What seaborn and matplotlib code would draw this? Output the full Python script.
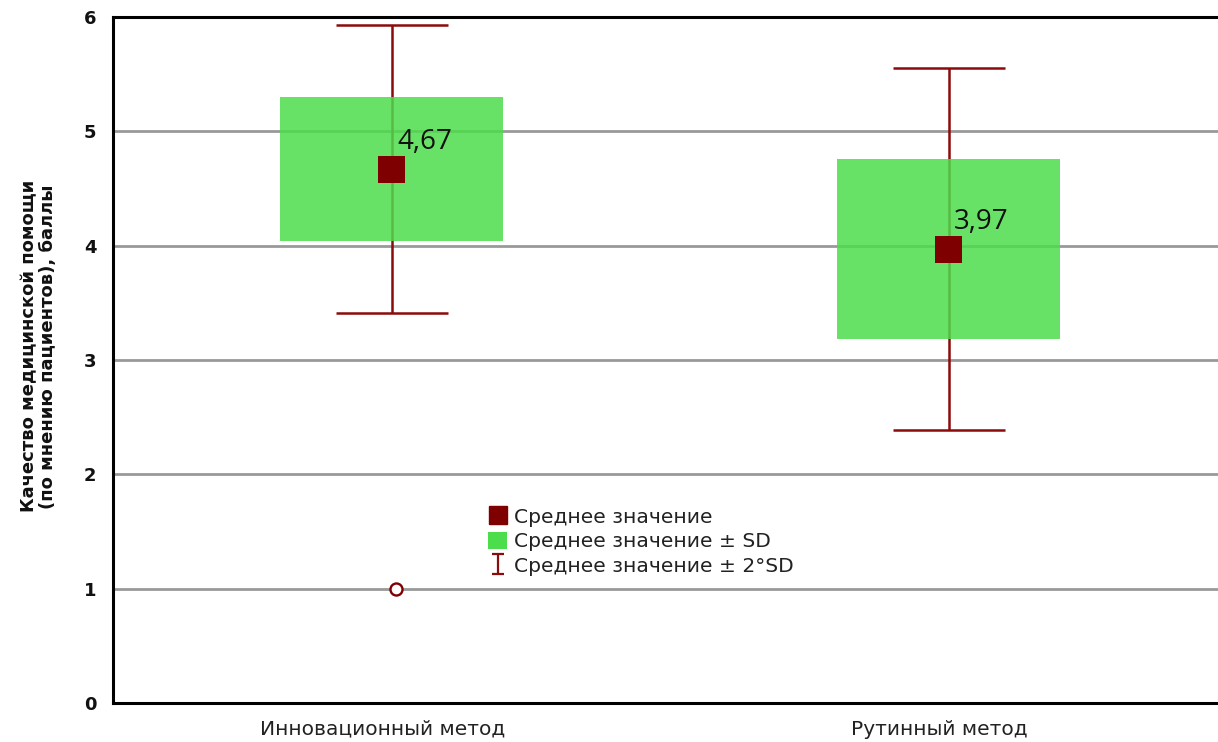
import matplotlib
matplotlib.use("Agg")
import matplotlib.pyplot as plt
import matplotlib.transforms as mtransforms
from matplotlib.lines import Line2D
from matplotlib.patches import Patch
from matplotlib.path import Path
import seaborn as sns
import pandas as pd

# Data
methods = ["Инновационный метод", "Рутинный метод"]
means = [4.67, 3.97]
sds = [0.63, 0.79]
outlier_values = [1.0]
outlier_method = ["Инновационный метод"]
yticks = [0, 1, 2, 3, 4, 5, 6]
value_labels = ["4,67", "3,97"]

df = pd.DataFrame({"method": methods, "mean": means, "sd": sds})
df["x"] = range(len(df))

sns.set_theme(style="white")
plt.rcParams["font.family"] = ["DejaVu Sans"]

DARK_RED = "#7f0000"
WHISKER = "#8b0a0a"
GREEN = "#4cdd4c"

fig = plt.figure(figsize=(12.18, 7.42), dpi=100)
ax = fig.add_axes([113 / 1218, 39 / 742, 1114 / 1218, 686 / 742])

# horizontal grid lines
for v in yticks[1:-1]:
    ax.axhline(v, color="#999999", lw=2, zorder=0)

# mean ± 2 SD whiskers
ax.errorbar(df["x"], df["mean"], yerr=2 * df["sd"], fmt="none",
            ecolor=WHISKER, elinewidth=1.8, capsize=40, capthick=1.8, zorder=1)

# mean ± SD boxes
ax.bar(df["x"], 2 * df["sd"], bottom=df["mean"] - df["sd"], width=0.4,
       color=GREEN, alpha=0.85, linewidth=0, zorder=2)

# means
sns.scatterplot(data=df, x="x", y="mean", marker="s", s=380, color=DARK_RED,
                edgecolor="none", ax=ax, zorder=3, legend=False)

# outliers
out_x = [methods.index(m) for m in outlier_method]
ax.scatter([x + 0.008 for x in out_x], outlier_values, s=75, facecolor="white",
           edgecolor=DARK_RED, linewidth=1.7, zorder=3)

# value labels
for i, (m, lab) in enumerate(zip(means, value_labels)):
    ax.text(i + 0.01, m + 0.24, lab, ha="left", va="center", fontsize=20,
            color="#111111", zorder=4, family=["Open Sans", "DejaVu Sans"])

ax.set_xlim(-0.5, 1.5)
ax.set_ylim(0, 6)
ax.set_xticks(df["x"])
ax.set_xticklabels(methods, fontsize=14.5, color="#222222")
ax.set_yticks(yticks)
ax.set_yticklabels([str(v) for v in yticks], fontsize=13, fontweight="bold",
                   color="#111111")
ax.tick_params(axis="x", direction="in", length=8, width=2, pad=12, color="black")
ax.tick_params(axis="y", length=0, pad=12)
shift = mtransforms.ScaledTranslation(-9 / 100, 0, fig.dpi_scale_trans)
for lbl in ax.get_xticklabels():
    lbl.set_transform(lbl.get_transform() + shift)
ax.set_xlabel("")
ax.set_ylabel("Качество медицинской помощи\n(по мнению пациентов), баллы",
              fontsize=13, fontweight="bold", color="#111111", linespacing=1.1)
ax.yaxis.set_label_coords(-0.05, 0.52)

for side in ["left", "top", "bottom"]:
    ax.spines[side].set_color("black")
    ax.spines[side].set_linewidth(2.2)
ax.spines["right"].set_visible(False)

# legend
ibeam = Path([(-0.6, -1), (0.6, -1), (0, -1), (0, 1), (-0.6, 1), (0.6, 1)],
             [Path.MOVETO, Path.LINETO, Path.MOVETO, Path.LINETO, Path.MOVETO, Path.LINETO])
handles = [
    Line2D([], [], marker="s", markersize=13, color=DARK_RED, linestyle="none"),
    Patch(facecolor=GREEN, edgecolor="none"),
    Line2D([], [], marker=ibeam, markersize=14, markerfacecolor="none",
           markeredgecolor=WHISKER, markeredgewidth=1.6, linestyle="none"),
]
labels = ["Среднее значение", "Среднее значение ± SD", "Среднее значение ± 2°SD"]
leg = ax.legend(handles, labels, loc="upper left",
                bbox_to_anchor=((474 - 113) / 1114, (703 - 493) / 686),
                frameon=False, fontsize=14.6, handlelength=0.95, handleheight=0.95,
                handletextpad=0.3, labelspacing=0.23, borderpad=0.2)
for t in leg.get_texts():
    t.set_color("#222222")

fig.savefig("out.png", dpi=100)
